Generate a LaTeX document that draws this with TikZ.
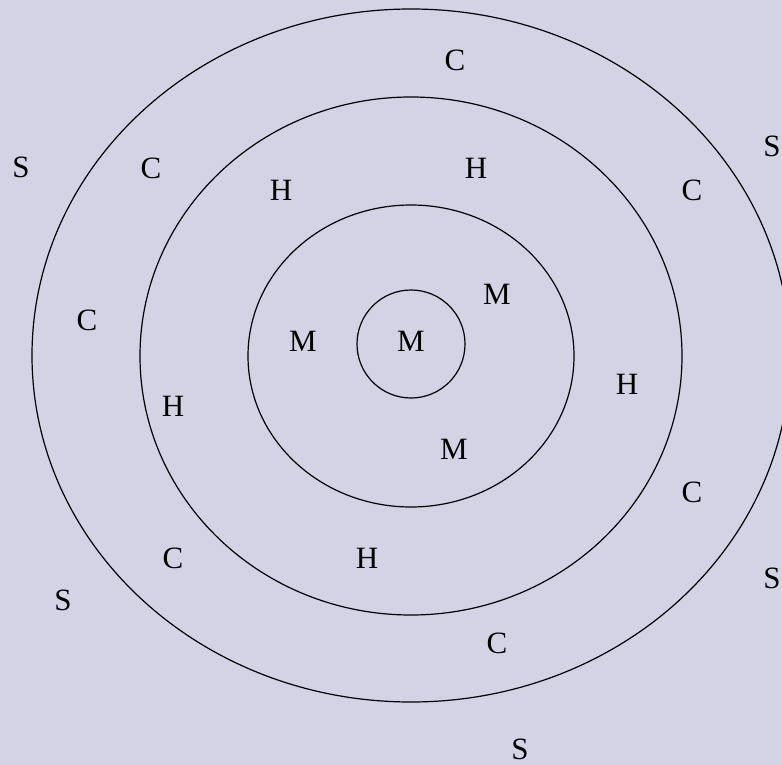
\documentclass[tikz,border=0pt]{standalone}
\usepackage{fontspec}
\setmainfont{Liberation Serif}
\definecolor{bgc}{RGB}{211,211,229}
\begin{document}
\begin{tikzpicture}[x=1pt,y=-1pt,
  lbl/.style={inner sep=0pt, font=\fontsize{31}{31}\selectfont},
  ring/.style={draw=black, line width=1.2pt}]
\fill[bgc] (0,0) rectangle (782,765);
\useasboundingbox (0,0) rectangle (782,765);
\begin{scope}
\clip (0,0) rectangle (782,765);
\draw[ring] (411,355.5) ellipse [x radius=379, y radius=346.5];
\draw[ring] (411,356) ellipse [x radius=271, y radius=259];
\draw[ring] (411,356) ellipse [x radius=163, y radius=151];
\draw[ring] (411,344) circle [radius=54];
\end{scope}
\node[lbl] (c1) at (455,60) {C};
\node[lbl] (s1) at (21,167) {S};
\node[lbl] (c2) at (151,168) {C};
\node[lbl] (h1) at (281,190) {H};
\node[lbl] (h2) at (476,168) {H};
\node[lbl] (c3) at (692,190) {C};
\node[lbl] (s2) at (772,146) {S};
\node[lbl] (c4) at (87,320) {C};
\node[lbl] (m1) at (303,341) {M};
\node[lbl] (m2) at (411,341) {M};
\node[lbl] (m3) at (497,294) {M};
\node[lbl] (h3) at (627,384) {H};
\node[lbl] (h4) at (173,406) {H};
\node[lbl] (m4) at (454,449) {M};
\node[lbl] (c5) at (692,492) {C};
\node[lbl] (c6) at (173,558) {C};
\node[lbl] (h5) at (367,558) {H};
\node[lbl] (s3) at (63,600) {S};
\node[lbl] (s4) at (772,578) {S};
\node[lbl] (c7) at (497,643) {C};
\node[lbl] (s5) at (520,749) {S};
\end{tikzpicture}
\end{document}
